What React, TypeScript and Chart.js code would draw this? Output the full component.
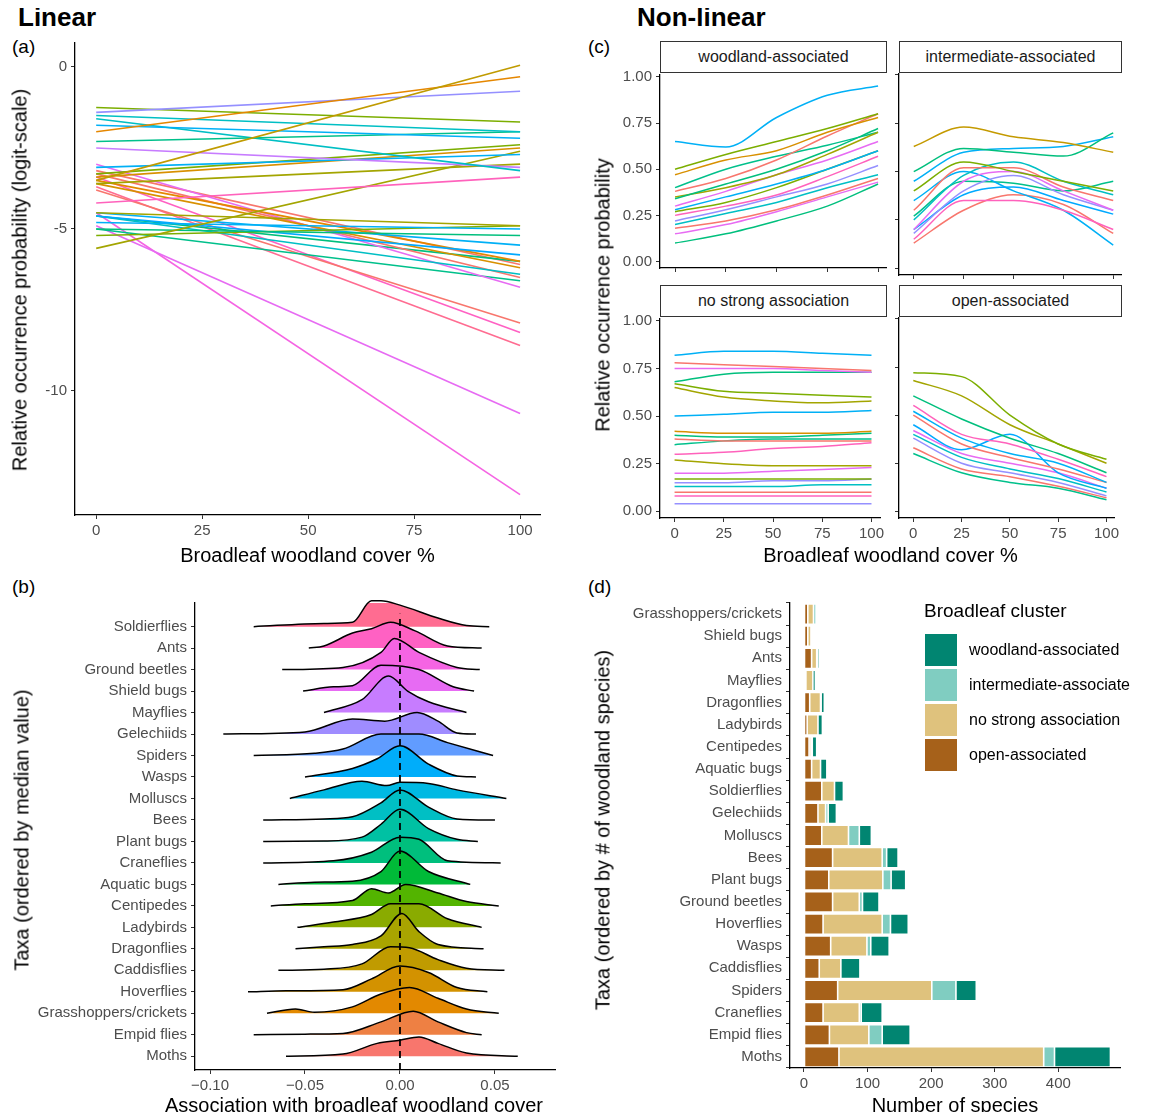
import { useEffect, useRef } from "react";
import { Chart, ChartConfiguration, registerables } from "chart.js";

Chart.register(...registerables);

const FONT = "'Liberation Sans', Arial, sans-serif";
const TICK = "#4D4D4D";

// ---------- panel (a): linear fits, [value at 0%, value at 100%]
const linearLines: [number, number][] = [
  [-3.5, 0.05], [-2.0, -0.3], [-1.4, -0.75], [-1.25, -1.7], [-1.5, -2.0], [-1.8, -2.2],
  [-2.3, -2.0], [-1.6, -3.2], [-2.5, -3.1], [-3.1, -2.7], [-3.3, -2.4], [-3.6, -3.0],
  [-3.4, -2.5], [-4.2, -3.4], [-5.6, -2.6], [-4.5, -4.9], [-5.0, -5.2], [-4.8, -5.0],
  [-5.2, -4.9], [-4.5, -5.5], [-4.6, -5.8], [-4.6, -6.4], [-3.5, -6.0], [-3.6, -6.2],
  [-3.3, -6.5], [-3.0, -6.8], [-4.6, -6.0], [-5.0, -6.6], [-3.8, -7.9], [-3.4, -8.2],
  [-3.7, -8.6], [-4.9, -10.7], [-4.5, -13.2], [-3.2, -6.1],
];
const linearColors = [
  "#C09B00", "#E58700", "#9590FF", "#7CAE00", "#00BFC4", "#00B0F6",
  "#00C08B", "#00BFC4", "#C77CFF", "#00B0F6", "#7CAE00", "#A3A500",
  "#D89000", "#FF62BC", "#A3A500", "#A3A500", "#00BF7D", "#00B0F6",
  "#7CAE00", "#00B0F6", "#00A9FF", "#00BFC4", "#E58700", "#D89000",
  "#F8766D", "#E76BF3", "#00BF7D", "#00C08B", "#F8766D", "#FF61C3",
  "#FF6C91", "#E76BF3", "#F564E3", "#F8766D",
];

// ---------- panel (b): ridgelines, bottom to top, [x, height in rows]
const ridgeTaxa = [
  "Moths", "Empid flies", "Grasshoppers/crickets", "Hoverflies", "Caddisflies", "Dragonflies",
  "Ladybirds", "Centipedes", "Aquatic bugs", "Craneflies", "Plant bugs", "Bees", "Molluscs",
  "Wasps", "Spiders", "Gelechiids", "Mayflies", "Shield bugs", "Ground beetles", "Ants", "Soldierflies",
];
const ridgeCurves: [number, number][][] = [
  [[-0.06, 0], [-0.03, 0.1], [-0.012, 0.6], [0, 0.75], [0.01, 0.9], [0.02, 0.6], [0.035, 0.15], [0.062, 0]],
  [[-0.077, 0], [-0.05, 0.03], [-0.03, 0.06], [-0.01, 0.6], [0.007, 1.1], [0.02, 0.6], [0.035, 0.1], [0.043, 0]],
  [[-0.07, 0], [-0.055, 0.2], [-0.045, 0.05], [-0.025, 0.3], [-0.01, 0.9], [0.005, 1.2], [0.02, 0.7], [0.035, 0.2], [0.052, 0]],
  [[-0.08, 0], [-0.06, 0.05], [-0.03, 0.1], [-0.015, 0.6], [0, 1.2], [0.015, 0.9], [0.03, 0.2], [0.046, 0]],
  [[-0.064, 0], [-0.04, 0.05], [-0.02, 0.3], [-0.005, 1.1], [0.005, 1.05], [0.02, 0.5], [0.035, 0.1], [0.055, 0]],
  [[-0.055, 0], [-0.04, 0.1], [-0.025, 0.2], [-0.01, 0.6], [0.001, 1.65], [0.01, 0.8], [0.02, 0.2], [0.044, 0]],
  [[-0.054, 0], [-0.035, 0.25], [-0.015, 0.6], [-0.005, 1.1], [0.01, 1.1], [0.025, 0.4], [0.043, 0]],
  [[-0.068, 0], [-0.05, 0.1], [-0.025, 0.25], [-0.015, 0.8], [-0.006, 0.6], [0.003, 1.0], [0.02, 0.6], [0.035, 0.2], [0.052, 0]],
  [[-0.064, 0], [-0.045, 0.1], [-0.025, 0.15], [-0.01, 0.6], [0, 1.55], [0.015, 0.6], [0.037, 0]],
  [[-0.072, 0], [-0.035, 0.1], [-0.015, 0.5], [0, 1.2], [0.01, 1.1], [0.025, 0.1], [0.053, 0]],
  [[-0.072, 0], [-0.04, 0.02], [-0.02, 0.2], [-0.01, 0.8], [0, 1.5], [0.015, 0.6], [0.03, 0.1], [0.041, 0]],
  [[-0.072, 0], [-0.04, 0.05], [-0.025, 0.15], [-0.01, 0.8], [0, 1.4], [0.015, 0.6], [0.03, 0.05], [0.05, 0]],
  [[-0.058, 0], [-0.04, 0.4], [-0.02, 0.8], [-0.007, 0.6], [0, 0.75], [0.015, 0.7], [0.03, 0.4], [0.056, 0]],
  [[-0.05, 0], [-0.025, 0.4], [-0.012, 0.85], [0, 1.45], [0.015, 0.6], [0.03, 0.05], [0.04, 0]],
  [[-0.077, 0], [-0.045, 0.1], [-0.03, 0.3], [-0.01, 1.0], [0.01, 1.0], [0.025, 0.6], [0.049, 0]],
  [[-0.093, 0], [-0.05, 0.1], [-0.025, 0.7], [-0.008, 0.6], [0.009, 1.0], [0.02, 0.6], [0.03, 0.05], [0.04, 0]],
  [[-0.04, 0], [-0.02, 0.6], [-0.006, 1.7], [0.004, 1.0], [0.015, 0.5], [0.035, 0]],
  [[-0.051, 0], [-0.035, 0.2], [-0.025, 0.25], [-0.01, 1.2], [0.01, 1.0], [0.028, 0.2], [0.039, 0]],
  [[-0.062, 0], [-0.03, 0.1], [-0.01, 0.8], [-0.003, 1.45], [0.01, 0.8], [0.03, 0.1], [0.042, 0]],
  [[-0.048, 0], [-0.04, 0.1], [-0.025, 0.7], [-0.015, 0.9], [-0.005, 1.2], [0.008, 0.8], [0.025, 0.1], [0.043, 0]],
  [[-0.077, 0], [-0.04, 0.15], [-0.025, 0.2], [-0.015, 1.2], [-0.01, 1.2], [0, 1.0], [0.02, 0.4], [0.035, 0.05], [0.047, 0]],
];
const ridgeColors = [
  "#F8766D", "#EE8043", "#E38900", "#D39200", "#C09B00", "#A9A400", "#8AAB00",
  "#53B400", "#00BA38", "#00BF7D", "#00C1A3", "#00BFC4", "#00B9E3", "#00ADFA",
  "#619CFF", "#9F8CFF", "#C77CFF", "#E76BF3", "#F564E3", "#FF61C3", "#FF6C91",
];

// ---------- panel (c): non-linear curves at 0,25,50,75,100 %
const coverX = [0, 25, 50, 75, 100];
const woodCurves = [
  [0.65, 0.62, 0.78, 0.9, 0.95], [0.5, 0.58, 0.65, 0.72, 0.8], [0.47, 0.55, 0.6, 0.7, 0.78],
  [0.38, 0.45, 0.55, 0.68, 0.8], [0.34, 0.42, 0.5, 0.6, 0.72], [0.35, 0.4, 0.47, 0.58, 0.7],
  [0.3, 0.38, 0.47, 0.55, 0.65], [0.28, 0.35, 0.42, 0.5, 0.6], [0.25, 0.3, 0.36, 0.46, 0.57],
  [0.22, 0.28, 0.35, 0.42, 0.52], [0.2, 0.26, 0.32, 0.4, 0.47], [0.18, 0.22, 0.28, 0.36, 0.45],
  [0.15, 0.2, 0.27, 0.35, 0.43], [0.1, 0.15, 0.22, 0.3, 0.42], [0.27, 0.32, 0.4, 0.5, 0.6],
  [0.4, 0.5, 0.57, 0.63, 0.7],
];
const woodColors = ["#00B0F6", "#7CAE00", "#D89000", "#F8766D", "#00BF7D", "#A3A500", "#E76BF3", "#00B0F6",
  "#FF62BC", "#9590FF", "#00BFC4", "#F8766D", "#E76BF3", "#00BF7D", "#7CAE00", "#00C08B"];
const interCurves = [
  [0.63, 0.73, 0.68, 0.65, 0.6], [0.5, 0.62, 0.6, 0.58, 0.7], [0.45, 0.6, 0.62, 0.63, 0.68],
  [0.4, 0.55, 0.5, 0.45, 0.4], [0.3, 0.52, 0.52, 0.42, 0.35], [0.25, 0.48, 0.55, 0.45, 0.38],
  [0.2, 0.45, 0.5, 0.4, 0.3], [0.18, 0.4, 0.48, 0.38, 0.3], [0.15, 0.35, 0.35, 0.3, 0.2],
  [0.2, 0.38, 0.42, 0.35, 0.28], [0.35, 0.5, 0.4, 0.3, 0.12], [0.13, 0.3, 0.38, 0.33, 0.18],
  [0.27, 0.45, 0.44, 0.4, 0.45],
];
const interColors = ["#C49A00", "#00BF7D", "#00B0F6", "#7CAE00", "#F8766D", "#00BFC4", "#E76BF3",
  "#9590FF", "#FF62BC", "#00A9FF", "#00B0F6", "#F8766D", "#00C08B"];
const noneCurves = [
  [0.82, 0.84, 0.84, 0.83, 0.82], [0.78, 0.77, 0.76, 0.75, 0.74], [0.75, 0.75, 0.75, 0.74, 0.73],
  [0.68, 0.72, 0.73, 0.73, 0.73], [0.67, 0.63, 0.62, 0.61, 0.6], [0.65, 0.6, 0.58, 0.57, 0.58],
  [0.5, 0.51, 0.52, 0.52, 0.53], [0.42, 0.41, 0.41, 0.41, 0.42], [0.4, 0.39, 0.39, 0.4, 0.41],
  [0.38, 0.37, 0.37, 0.37, 0.37], [0.35, 0.37, 0.38, 0.38, 0.38], [0.3, 0.31, 0.33, 0.34, 0.36],
  [0.27, 0.25, 0.24, 0.24, 0.24], [0.2, 0.2, 0.21, 0.22, 0.23], [0.17, 0.17, 0.17, 0.17, 0.17],
  [0.15, 0.15, 0.16, 0.16, 0.17], [0.13, 0.13, 0.13, 0.14, 0.14], [0.08, 0.08, 0.08, 0.08, 0.08],
  [0.04, 0.04, 0.04, 0.04, 0.04], [0.1, 0.1, 0.1, 0.1, 0.1],
];
const noneColors = ["#00B0F6", "#F8766D", "#E76BF3", "#00BF7D", "#7CAE00", "#A3A500", "#00B0F6", "#D89000",
  "#00BF7D", "#F8766D", "#00C08B", "#FF62BC", "#A3A500", "#E76BF3", "#7CAE00", "#9590FF", "#00BFC4",
  "#FF62BC", "#9590FF", "#F8766D"];
const openCurves = [
  [0.72, 0.7, 0.5, 0.35, 0.27], [0.68, 0.6, 0.45, 0.35, 0.25], [0.6, 0.48, 0.38, 0.3, 0.2],
  [0.55, 0.4, 0.35, 0.27, 0.18], [0.52, 0.38, 0.3, 0.25, 0.15], [0.5, 0.35, 0.28, 0.22, 0.15],
  [0.45, 0.32, 0.4, 0.2, 0.12], [0.42, 0.3, 0.25, 0.2, 0.12], [0.4, 0.28, 0.22, 0.17, 0.1],
  [0.38, 0.25, 0.2, 0.15, 0.08], [0.33, 0.22, 0.18, 0.13, 0.07], [0.3, 0.2, 0.15, 0.12, 0.06],
];
const openColors = ["#7CAE00", "#A3A500", "#00BF7D", "#FF62BC", "#00B0F6", "#F8766D", "#00A9FF",
  "#E76BF3", "#00BFC4", "#9590FF", "#F8766D", "#00C08B"];

// ---------- panel (d): species counts per cluster
const barTaxa = [
  "Grasshoppers/crickets", "Shield bugs", "Ants", "Mayflies", "Dragonflies", "Ladybirds", "Centipedes",
  "Aquatic bugs", "Soldierflies", "Gelechiids", "Molluscs", "Bees", "Plant bugs", "Ground beetles",
  "Hoverflies", "Wasps", "Caddisflies", "Spiders", "Craneflies", "Empid flies", "Moths",
];
const openCounts = [6, 6, 12, 3, 9, 5, 8, 12, 28, 22, 28, 45, 39, 45, 30, 42, 24, 53, 30, 40, 55];
const noneCounts = [9, 5, 8, 11, 17, 17, 3, 14, 20, 12, 42, 78, 85, 42, 93, 57, 34, 148, 57, 62, 322];
const interCounts = [4, 2, 1, 0, 1, 0, 2, 0, 0, 4, 17, 7, 13, 5, 13, 6, 0, 38, 3, 21, 17];
const woodCounts = [1, 2, 3, 4, 5, 7, 7, 10, 14, 13, 19, 18, 23, 26, 28, 29, 30, 32, 33, 44, 88];
const clusterNames = ["woodland-associated", "intermediate-associate", "no strong association", "open-associated"];
const clusterColors = ["#018571", "#80CDC1", "#DFC27D", "#A6611A"];

function useChart(config: () => ChartConfiguration) {
  const ref = useRef<HTMLCanvasElement>(null);
  useEffect(() => {
    if (!ref.current) return;
    const chart = new Chart(ref.current, config());
    return () => chart.destroy();
  }, []);
  return ref;
}

const tickFont = { family: FONT, size: 15 };
const axisGrid = { display: true, drawOnChartArea: false, drawTicks: true, tickLength: 4, color: "#333" };
const axisBorder = { display: true, color: "#000", width: 1.3 };

function fixAxes(yWidth: number, xHeight: number) {
  return {
    y: (s: any) => { s.width = yWidth; },
    x: (s: any) => { s.height = xHeight; },
  };
}

function ChartBox(props: { left: number; top: number; width: number; height: number; config: () => ChartConfiguration }) {
  const ref = useChart(props.config);
  return (
    <div style={{ position: "absolute", left: props.left, top: props.top, width: props.width, height: props.height }}>
      <canvas ref={ref} width={props.width} height={props.height} />
    </div>
  );
}

function lineOptions(o: {
  xmin: number; xmax: number; ymin: number; ymax: number; xTicks: number[]; yTicks: number[];
  xLabel?: (v: number) => string; yLabel?: (v: number) => string; yWidth: number; xHeight: number;
  showX: boolean; showY: boolean; padTop?: number; padRight?: number;
}): any {
  const fit = fixAxes(o.yWidth, o.xHeight);
  return {
    responsive: false,
    animation: false,
    layout: { padding: { top: o.padTop ?? 0, right: o.padRight ?? 0, left: 0, bottom: 0 } },
    plugins: { legend: { display: false }, tooltip: { enabled: false } },
    elements: { point: { radius: 0 } },
    scales: {
      x: {
        type: "linear", min: o.xmin, max: o.xmax,
        afterBuildTicks: (s: any) => { s.ticks = o.xTicks.map((v) => ({ value: v })); },
        afterFit: fit.x,
        ticks: { display: o.showX, color: TICK, font: tickFont, padding: 3, callback: (v: any) => (o.xLabel ? o.xLabel(v) : String(v)) },
        grid: axisGrid, border: axisBorder,
      },
      y: {
        type: "linear", min: o.ymin, max: o.ymax,
        afterBuildTicks: (s: any) => { s.ticks = o.yTicks.map((v) => ({ value: v })); },
        afterFit: fit.y,
        ticks: { display: o.showY, color: TICK, font: tickFont, padding: 4, callback: (v: any) => (o.yLabel ? o.yLabel(v) : String(v)) },
        grid: axisGrid, border: axisBorder,
      },
    },
  };
}

function panelA(): ChartConfiguration {
  return {
    type: "line",
    data: {
      datasets: linearLines.map(([s, e], i) => ({
        data: [{ x: 0, y: s }, { x: 100, y: e }],
        borderColor: linearColors[i], borderWidth: 1.6,
      })),
    },
    options: lineOptions({
      xmin: -5, xmax: 104.7, ymin: -13.83, ymax: 0.74, xTicks: [0, 25, 50, 75, 100], yTicks: [-10, -5, 0],
      yWidth: 75, xHeight: 30, showX: true, showY: true, padTop: 10, padRight: 20,
    }),
  };
}

function panelB(): ChartConfiguration {
  const opts = lineOptions({
    xmin: -0.1079, xmax: 0.0816, ymin: -0.64, ymax: 21.1, xTicks: [-0.1, -0.05, 0, 0.05],
    yTicks: ridgeTaxa.map((_, i) => i), xLabel: (v) => (v < 0 ? "\u2212" : "") + Math.abs(v).toFixed(2),
    yLabel: (v) => ridgeTaxa[v] ?? "", yWidth: 195, xHeight: 30, showX: true, showY: true, padTop: 2, padRight: 15,
  });
  return {
    type: "line",
    data: {
      datasets: [
        {
          data: [{ x: 0, y: -0.64 }, { x: 0, y: 20.6 }], borderColor: "#000", borderWidth: 1.8,
          borderDash: [7, 5], order: -1, fill: false,
        } as any,
        ...ridgeCurves.map((pts, i) => ({
          data: pts.map(([x, h]) => ({ x, y: i + h })),
          borderColor: "#000", borderWidth: 1.5, backgroundColor: ridgeColors[i],
          fill: { value: i }, cubicInterpolationMode: "monotone", clip: false,
        })),
      ],
    },
    options: opts,
  };
}

function facet(curves: number[][], colors: string[], showX: boolean, showY: boolean) {
  return (): ChartConfiguration => ({
    type: "line",
    data: {
      datasets: curves.map((c, i) => ({
        data: c.map((y, j) => ({ x: coverX[j], y })),
        borderColor: colors[i], borderWidth: 1.5, cubicInterpolationMode: "monotone",
      })),
    },
    options: lineOptions({
      xmin: -7.4, xmax: 104.4, ymin: -0.035, ymax: 1.01, xTicks: [0, 25, 50, 75, 100],
      yTicks: [0, 0.25, 0.5, 0.75, 1], yLabel: (v) => v.toFixed(2),
      yWidth: showY ? 50 : 6, xHeight: showX ? 28 : 6, showX, showY,
    }),
  });
}

function panelD(): ChartConfiguration {
  const sets = [
    { data: openCounts, color: clusterColors[3] },
    { data: noneCounts, color: clusterColors[2] },
    { data: interCounts, color: clusterColors[1] },
    { data: woodCounts, color: clusterColors[0] },
  ];
  const fit = fixAxes(230, 30);
  return {
    type: "bar",
    data: {
      labels: barTaxa,
      datasets: sets.map((s) => ({
        data: s.data, backgroundColor: s.color, borderColor: "#fff", borderWidth: 0.8,
        borderSkipped: false, barPercentage: 0.92, categoryPercentage: 1,
      })),
    },
    options: {
      responsive: false, animation: false, indexAxis: "y",
      layout: { padding: { top: 2, right: 20 } },
      plugins: { legend: { display: false }, tooltip: { enabled: false } },
      scales: {
        x: {
          type: "linear", stacked: true, min: -22, max: 497,
          afterBuildTicks: (s: any) => { s.ticks = [0, 100, 200, 300, 400].map((v) => ({ value: v })); },
          afterFit: fit.x,
          ticks: { color: TICK, font: tickFont, padding: 3 },
          grid: axisGrid, border: axisBorder,
        },
        y: {
          stacked: true, afterFit: fit.y,
          ticks: { color: TICK, font: tickFont, padding: 4 },
          grid: axisGrid, border: axisBorder,
        },
      } as any,
    },
  };
}

const txt = (s: any): any => ({ position: "absolute", fontFamily: FONT, color: "#000", whiteSpace: "nowrap", ...s });

function Strip(p: { left: number; top: number; width: number; label: string }) {
  return (
    <div style={txt({ left: p.left, top: p.top, width: p.width - 2, height: 30, border: "1.3px solid #333", textAlign: "center", lineHeight: "30px", fontSize: 16, color: "#1a1a1a" })}>
      {p.label}
    </div>
  );
}

export default function App() {
  const fl = 660 - 50, fr = 899 - 6;
  return (
    <div style={{ position: "relative", width: 1151, height: 1120, background: "#fff", overflow: "hidden", margin: -8 }}>
      <div style={txt({ left: 18, top: 2, fontSize: 26, fontWeight: "bold" })}>Linear</div>
      <div style={txt({ left: 637, top: 2, fontSize: 26, fontWeight: "bold" })}>Non-linear</div>
      <div style={txt({ left: 12, top: 36, fontSize: 19 })}>(a)</div>
      <div style={txt({ left: 12, top: 576, fontSize: 19 })}>(b)</div>
      <div style={txt({ left: 588, top: 36, fontSize: 19 })}>(c)</div>
      <div style={txt({ left: 588, top: 576, fontSize: 19 })}>(d)</div>

      <ChartBox left={0} top={30} width={560} height={515} config={panelA} />
      <div style={txt({ left: 75, width: 465, top: 544, textAlign: "center", fontSize: 20 })}>Broadleaf woodland cover %</div>
      <div style={txt({ left: 20, top: 280, fontSize: 20, transform: "translate(-50%,-50%) rotate(-90deg)" })}>
        Relative occurrence probability (logit-scale)
      </div>

      <ChartBox left={0} top={590} width={570} height={510} config={panelB} />
      <div style={txt({ left: 165, top: 1094, fontSize: 20 })}>Association with broadleaf woodland cover</div>
      <div style={txt({ left: 22, top: 830, fontSize: 20, transform: "translate(-50%,-50%) rotate(-90deg)" })}>
        Taxa (ordered by median value)
      </div>

      <Strip left={660} top={41} width={227} label="woodland-associated" />
      <Strip left={899} top={41} width={223} label="intermediate-associated" />
      <Strip left={660} top={285} width={227} label="no strong association" />
      <Strip left={899} top={285} width={223} label="open-associated" />
      <ChartBox left={fl} top={62} width={277} height={219} config={facet(woodCurves, woodColors, false, true)} />
      <ChartBox left={fr} top={73} width={229} height={208} config={facet(interCurves, interColors, false, false)} />
      <ChartBox left={fl} top={306} width={277} height={240} config={facet(noneCurves, noneColors, true, true)} />
      <ChartBox left={fr} top={317} width={229} height={229} config={facet(openCurves, openColors, true, false)} />
      <div style={txt({ left: 660, width: 461, top: 544, textAlign: "center", fontSize: 20 })}>Broadleaf woodland cover %</div>
      <div style={txt({ left: 603, top: 295, fontSize: 20, transform: "translate(-50%,-50%) rotate(-90deg)" })}>
        Relative occurrence probability
      </div>

      <ChartBox left={560} top={590} width={580} height={508} config={panelD} />
      <div style={txt({ left: 790, width: 330, top: 1094, textAlign: "center", fontSize: 20 })}>Number of species</div>
      <div style={txt({ left: 603, top: 830, fontSize: 20, transform: "translate(-50%,-50%) rotate(-90deg)" })}>
        Taxa (ordered by # of woodland species)
      </div>
      <div style={txt({ left: 924, top: 600, fontSize: 19 })}>Broadleaf cluster</div>
      {clusterNames.map((n, i) => (
        <div key={n}>
          <div style={{ position: "absolute", left: 925, top: 634 + i * 35, width: 32, height: 32, background: clusterColors[i] }} />
          <div style={txt({ left: 969, top: 641 + i * 35, fontSize: 16 })}>{n}</div>
        </div>
      ))}
    </div>
  );
}
